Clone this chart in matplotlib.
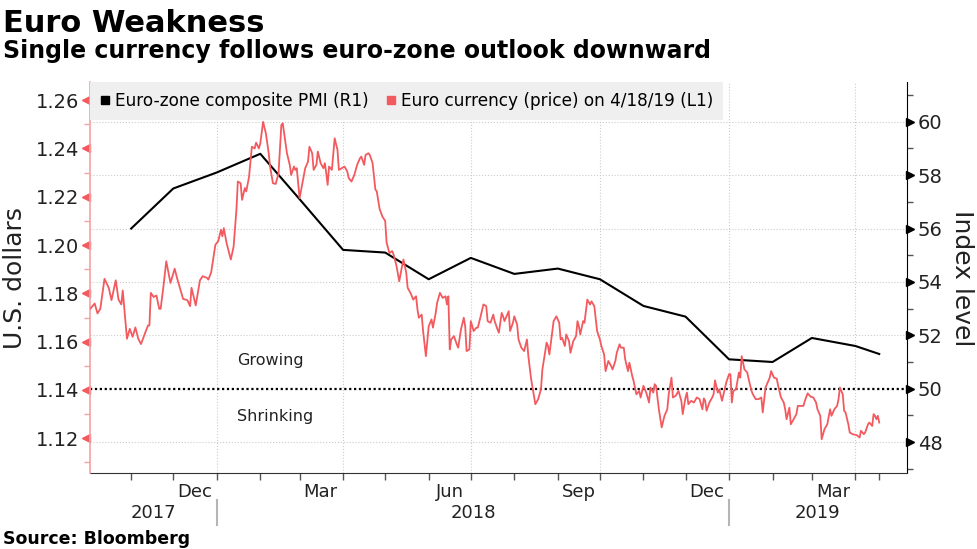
import matplotlib
matplotlib.use("Agg")
import matplotlib.pyplot as plt
import matplotlib.transforms as mtransforms
from matplotlib.lines import Line2D
import pandas as pd

# Euro-zone composite PMI (monthly, plotted at release)
pmi_dates = ["2017-11-01", "2017-12-01", "2018-01-01", "2018-02-01", "2018-03-01",
             "2018-04-01", "2018-05-01", "2018-06-01", "2018-07-01", "2018-08-01",
             "2018-09-01", "2018-10-01", "2018-11-01", "2018-12-01", "2019-01-01",
             "2019-02-01", "2019-03-01", "2019-04-01", "2019-04-18"]
pmi_values = [56.0, 57.5, 58.1, 58.8, 57.1, 55.2, 55.1, 54.1, 54.9, 54.3,
              54.5, 54.1, 53.1, 52.7, 51.1, 51.0, 51.9, 51.6, 51.3]

# EUR/USD price
eur_dates = [
    "2017-10-03", "2017-10-06", "2017-10-08", "2017-10-10", "2017-10-13", "2017-10-16", "2017-10-18",
    "2017-10-21", "2017-10-23", "2017-10-25", "2017-10-26", "2017-10-29", "2017-10-31", "2017-11-02",
    "2017-11-04", "2017-11-06", "2017-11-08", "2017-11-11", "2017-11-13", "2017-11-14", "2017-11-15",
    "2017-11-17", "2017-11-19", "2017-11-21", "2017-11-22", "2017-11-24", "2017-11-26", "2017-11-29",
    "2017-12-02", "2017-12-04", "2017-12-08", "2017-12-11", "2017-12-13", "2017-12-14", "2017-12-17",
    "2017-12-20", "2017-12-22", "2017-12-25", "2017-12-26", "2017-12-28", "2017-12-31", "2018-01-02",
    "2018-01-04", "2018-01-05", "2018-01-06", "2018-01-08", "2018-01-11", "2018-01-13", "2018-01-15",
    "2018-01-16", "2018-01-18", "2018-01-19", "2018-01-21", "2018-01-22", "2018-01-24", "2018-01-26",
    "2018-01-28", "2018-01-29", "2018-01-31", "2018-02-01", "2018-02-03", "2018-02-05", "2018-02-07",
    "2018-02-08", "2018-02-10", "2018-02-12", "2018-02-14", "2018-02-16", "2018-02-17", "2018-02-19",
    "2018-02-20", "2018-02-22", "2018-02-23", "2018-02-25", "2018-02-26", "2018-02-27", "2018-03-01",
    "2018-03-03", "2018-03-05", "2018-03-07", "2018-03-08", "2018-03-10", "2018-03-11", "2018-03-13",
    "2018-03-14", "2018-03-16", "2018-03-18", "2018-03-19", "2018-03-20", "2018-03-21", "2018-03-22",
    "2018-03-24", "2018-03-26", "2018-03-28", "2018-03-29", "2018-03-31", "2018-04-02", "2018-04-04",
    "2018-04-05", "2018-04-07", "2018-04-09", "2018-04-11", "2018-04-13", "2018-04-14", "2018-04-16",
    "2018-04-17", "2018-04-19", "2018-04-20", "2018-04-22", "2018-04-24", "2018-04-25", "2018-04-27",
    "2018-04-29", "2018-05-01", "2018-05-02", "2018-05-04", "2018-05-06", "2018-05-07", "2018-05-09",
    "2018-05-11", "2018-05-13", "2018-05-14", "2018-05-16", "2018-05-17", "2018-05-19", "2018-05-21",
    "2018-05-23", "2018-05-24", "2018-05-25", "2018-05-27", "2018-05-28", "2018-05-30", "2018-06-01",
    "2018-06-03", "2018-06-04", "2018-06-06", "2018-06-07", "2018-06-09", "2018-06-11", "2018-06-13",
    "2018-06-14", "2018-06-15", "2018-06-16", "2018-06-17", "2018-06-19", "2018-06-21", "2018-06-22",
    "2018-06-24", "2018-06-26", "2018-06-27", "2018-06-28", "2018-06-30", "2018-07-01", "2018-07-03",
    "2018-07-05", "2018-07-06", "2018-07-08", "2018-07-10", "2018-07-12", "2018-07-13", "2018-07-15",
    "2018-07-17", "2018-07-18", "2018-07-20", "2018-07-21", "2018-07-23", "2018-07-24", "2018-07-25",
    "2018-07-27", "2018-07-28", "2018-07-29", "2018-07-31", "2018-08-01", "2018-08-03", "2018-08-04",
    "2018-08-06", "2018-08-08", "2018-08-10", "2018-08-11", "2018-08-13", "2018-08-15", "2018-08-16",
    "2018-08-18", "2018-08-20", "2018-08-21", "2018-08-24", "2018-08-25", "2018-08-26", "2018-08-28",
    "2018-08-29", "2018-08-31", "2018-09-02", "2018-09-03", "2018-09-04", "2018-09-06", "2018-09-07",
    "2018-09-09", "2018-09-10", "2018-09-12", "2018-09-14", "2018-09-15", "2018-09-16", "2018-09-17",
    "2018-09-19", "2018-09-20", "2018-09-22", "2018-09-24", "2018-09-25", "2018-09-27", "2018-09-29",
    "2018-10-01", "2018-10-02", "2018-10-04", "2018-10-05", "2018-10-07", "2018-10-09", "2018-10-10",
    "2018-10-12", "2018-10-13", "2018-10-15", "2018-10-16", "2018-10-18", "2018-10-19", "2018-10-21",
    "2018-10-22", "2018-10-24", "2018-10-25", "2018-10-27", "2018-10-29", "2018-10-30", "2018-11-01",
    "2018-11-03", "2018-11-05", "2018-11-06", "2018-11-08", "2018-11-09", "2018-11-10", "2018-11-12",
    "2018-11-14", "2018-11-16", "2018-11-18", "2018-11-19", "2018-11-21", "2018-11-22", "2018-11-24",
    "2018-11-26", "2018-11-28", "2018-11-29", "2018-12-01", "2018-12-02", "2018-12-03", "2018-12-05",
    "2018-12-07", "2018-12-09", "2018-12-11", "2018-12-13", "2018-12-14", "2018-12-15", "2018-12-16",
    "2018-12-18", "2018-12-20", "2018-12-21", "2018-12-22", "2018-12-24", "2018-12-25", "2018-12-27",
    "2018-12-30", "2019-01-01", "2019-01-02", "2019-01-03", "2019-01-04", "2019-01-06", "2019-01-08",
    "2019-01-09", "2019-01-10", "2019-01-12", "2019-01-14", "2019-01-15", "2019-01-17", "2019-01-18",
    "2019-01-20", "2019-01-22", "2019-01-24", "2019-01-25", "2019-01-27", "2019-01-29", "2019-01-30",
    "2019-01-31", "2019-02-02", "2019-02-04", "2019-02-05", "2019-02-07", "2019-02-09", "2019-02-10",
    "2019-02-11", "2019-02-13", "2019-02-14", "2019-02-16", "2019-02-18", "2019-02-19", "2019-02-21",
    "2019-02-23", "2019-02-24", "2019-02-26", "2019-02-28", "2019-03-02", "2019-03-04", "2019-03-05",
    "2019-03-07", "2019-03-08", "2019-03-10", "2019-03-12", "2019-03-14", "2019-03-15", "2019-03-17",
    "2019-03-19", "2019-03-20", "2019-03-21", "2019-03-23", "2019-03-24", "2019-03-25", "2019-03-27",
    "2019-03-28", "2019-03-30", "2019-04-02", "2019-04-04", "2019-04-05", "2019-04-07", "2019-04-08",
    "2019-04-10", "2019-04-11", "2019-04-13", "2019-04-14", "2019-04-15", "2019-04-16", "2019-04-17",
    "2019-04-18",
]
eur_price = [
    1.1737, 1.1758, 1.1717, 1.1736, 1.1860, 1.1823, 1.1772,
    1.1854, 1.1774, 1.1754, 1.1812, 1.1612, 1.1653, 1.1620,
    1.1659, 1.1613, 1.1590, 1.1637, 1.1667, 1.1667, 1.1802,
    1.1785, 1.1791, 1.1736, 1.1736, 1.1829, 1.1933, 1.1843,
    1.1902, 1.1857, 1.1777, 1.1772, 1.1747, 1.1823, 1.1750,
    1.1854, 1.1871, 1.1864, 1.1857, 1.1887, 1.2001, 1.2016,
    1.2063, 1.2036, 1.2070, 1.2008, 1.1940, 1.1994, 1.2146,
    1.2263, 1.2256, 1.2187, 1.2236, 1.2222, 1.2283, 1.2407,
    1.2400, 1.2424, 1.2400, 1.2421, 1.2510, 1.2462, 1.2380,
    1.2325, 1.2256, 1.2253, 1.2297, 1.2497, 1.2504, 1.2421,
    1.2380, 1.2332, 1.2290, 1.2325, 1.2311, 1.2318, 1.2194,
    1.2256, 1.2318, 1.2345, 1.2407, 1.2380, 1.2311, 1.2332,
    1.2387, 1.2339, 1.2318, 1.2339, 1.2297, 1.2249, 1.2325,
    1.2311, 1.2442, 1.2394, 1.2311, 1.2318, 1.2325, 1.2304,
    1.2277, 1.2263, 1.2290, 1.2332, 1.2359, 1.2366, 1.2332,
    1.2373, 1.2380, 1.2373, 1.2340, 1.2230, 1.2222, 1.2150,
    1.2118, 1.2100, 1.2010, 1.1967, 1.1975, 1.1960, 1.1915,
    1.1850, 1.1912, 1.1940, 1.1885, 1.1823, 1.1802, 1.1774,
    1.1788, 1.1733, 1.1699, 1.1712, 1.1644, 1.1540, 1.1664,
    1.1692, 1.1658, 1.1719, 1.1761, 1.1802, 1.1781, 1.1788,
    1.1754, 1.1788, 1.1568, 1.1609, 1.1623, 1.1589, 1.1575,
    1.1651, 1.1699, 1.1664, 1.1561, 1.1568, 1.1685, 1.1644,
    1.1658, 1.1658, 1.1705, 1.1754, 1.1747, 1.1685, 1.1678,
    1.1712, 1.1685, 1.1651, 1.1637, 1.1719, 1.1705, 1.1685,
    1.1712, 1.1726, 1.1644, 1.1678, 1.1705, 1.1671, 1.1609,
    1.1575, 1.1561, 1.1609, 1.1540, 1.1444, 1.1375, 1.1341,
    1.1362, 1.1403, 1.1485, 1.1596, 1.1582, 1.1547, 1.1637,
    1.1685, 1.1705, 1.1678, 1.1609, 1.1616, 1.1582, 1.1630,
    1.1602, 1.1554, 1.1602, 1.1623, 1.1685, 1.1664, 1.1630,
    1.1685, 1.1678, 1.1774, 1.1754, 1.1767, 1.1747, 1.1644,
    1.1609, 1.1582, 1.1547, 1.1478, 1.1520, 1.1499, 1.1485,
    1.1520, 1.1554, 1.1589, 1.1575, 1.1575, 1.1527, 1.1478,
    1.1513, 1.1458, 1.1437, 1.1382, 1.1396, 1.1369, 1.1417,
    1.1389, 1.1348, 1.1410, 1.1389, 1.1424, 1.1417, 1.1320,
    1.1245, 1.1293, 1.1320, 1.1382, 1.1451, 1.1369, 1.1376,
    1.1396, 1.1355, 1.1300, 1.1369, 1.1389, 1.1341, 1.1355,
    1.1348, 1.1369, 1.1362, 1.1320, 1.1365, 1.1355, 1.1314,
    1.1348, 1.1369, 1.1382, 1.1440, 1.1389, 1.1403, 1.1355,
    1.1431, 1.1465, 1.1465, 1.1348, 1.1396, 1.1403, 1.1472,
    1.1451, 1.1540, 1.1485, 1.1472, 1.1444, 1.1396, 1.1382,
    1.1362, 1.1362, 1.1369, 1.1307, 1.1410, 1.1437, 1.1451,
    1.1478, 1.1451, 1.1447, 1.1417, 1.1369, 1.1348, 1.1320,
    1.1279, 1.1327, 1.1258, 1.1279, 1.1300, 1.1334, 1.1334,
    1.1334, 1.1355, 1.1386, 1.1373, 1.1369, 1.1348, 1.1320,
    1.1293, 1.1196, 1.1238, 1.1258, 1.1320, 1.1293, 1.1320,
    1.1334, 1.1362, 1.1410, 1.1382, 1.1314, 1.1307, 1.1258,
    1.1224, 1.1217, 1.1213, 1.1203, 1.1231, 1.1217, 1.1224,
    1.1258, 1.1265, 1.1251, 1.1300, 1.1293, 1.1279, 1.1293,
    1.1265,
]

left_ticks = [1.12, 1.14, 1.16, 1.18, 1.20, 1.22, 1.24, 1.26]
left_minor = [1.11, 1.13, 1.15, 1.17, 1.19, 1.21, 1.23, 1.25]
right_ticks = [48, 50, 52, 54, 56, 58, 60]
right_minor = [47, 49, 51, 53, 55, 57, 59, 61]
month_labels = ["Dec", "Mar", "Jun", "Sep", "Dec", "Mar"]
month_label_dates = ["2017-12-16", "2018-03-16", "2018-06-16",
                     "2018-09-16", "2018-12-16", "2019-03-16"]
years = [2017, 2018, 2019]

RED = "#f25a5f"
PINK = "#f4a3a3"

pmi_x = pd.to_datetime(pmi_dates)
eur_x = pd.to_datetime(eur_dates)
x0 = pd.Timestamp("2017-10-02 16:00")
x1 = pd.Timestamp("2019-05-07 14:00")

fig = plt.figure(figsize=(9.77, 5.49), dpi=100)
L, R, B, T = 90 / 977, 906.7 / 977, 1 - 473.3 / 549, 1 - 82 / 549
ax = fig.add_axes([L, B, R - L, T - B])   # PMI, right axis
axl = ax.twinx()                          # euro, left axis
ax.yaxis.tick_right()
ax.yaxis.set_label_position("right")
axl.yaxis.tick_left()
axl.yaxis.set_label_position("left")

ax.set_xlim(x0, x1)
ax.set_ylim(46.83, 61.49)
axl.set_ylim(1.1055, 1.2675)

# grid: horizontal follows the right axis, vertical at quarter starts
for v in right_ticks:
    if v != 50:
        ax.axhline(v, color="#cccccc", ls=":", lw=0.8, zorder=0)
for d in ["2018-01-01", "2018-04-01", "2018-07-01", "2018-10-01", "2019-01-01", "2019-04-01"]:
    ax.axvline(pd.Timestamp(d), color="#cccccc", ls=":", lw=0.8, zorder=0)
ax.axhline(50, color="black", ls=(0, (1, 1.2)), lw=1.6, zorder=1)

ax.plot(pmi_x, pmi_values, color="black", lw=1.5, zorder=3)
axl.plot(eur_x, eur_price, color=RED, lw=1.3, zorder=3)

# spines
for s in ["top", "left"]:
    ax.spines[s].set_visible(False)
ax.spines["right"].set_color("black")
ax.spines["bottom"].set_color("#333333")
for s in ["top", "right", "bottom"]:
    axl.spines[s].set_visible(False)
axl.spines["left"].set_color(PINK)
axl.spines["left"].set_linewidth(1.2)

# y ticks with triangle markers
ax.set_yticks(right_ticks)
ax.set_yticklabels([str(v) for v in right_ticks])
ax.set_yticks(right_minor, minor=True)
ax.tick_params(axis="y", which="major", length=0, pad=8, labelsize=14, colors="#222222")
ax.tick_params(axis="y", which="minor", length=4, width=1, color="#555555")
axl.set_yticks(left_ticks)
axl.set_yticklabels([f"{v:.2f}" for v in left_ticks])
axl.set_yticks(left_minor, minor=True)
axl.tick_params(axis="y", which="major", length=0, pad=8, labelsize=14, labelcolor="#222222")
axl.tick_params(axis="y", which="minor", length=4, width=1, color=PINK)

trR = mtransforms.blended_transform_factory(ax.transAxes, ax.transData)
ax.plot([1.0045] * len(right_ticks), right_ticks, ls="none", marker=">", ms=5.5,
        color="black", transform=trR, clip_on=False)
trL = mtransforms.blended_transform_factory(axl.transAxes, axl.transData)
axl.plot([-0.0045] * len(left_ticks), left_ticks, ls="none", marker="<", ms=5.5,
         color=RED, transform=trL, clip_on=False)

# x ticks: month boundaries, month names mid-month
month_starts = list(pd.date_range("2017-11-01", "2019-04-01", freq="MS")) + [eur_x[-1]]
ax.set_xticks(month_starts)
ax.set_xticklabels([""] * len(month_starts))
ax.set_xticks(pd.to_datetime(month_label_dates), minor=True)
ax.set_xticklabels(month_labels, minor=True)
ax.tick_params(axis="x", which="major", length=5, width=1, color="#555555", direction="out")
ax.tick_params(axis="x", which="minor", length=0, pad=7, labelsize=13, labelcolor="#222222")

# years and separators
trX = mtransforms.blended_transform_factory(ax.transData, ax.transAxes)
for yr in years:
    a = max(pd.Timestamp(f"{yr}-01-01"), x0)
    b = min(pd.Timestamp(f"{yr + 1}-01-01"), x1)
    ax.text(a + (b - a) / 2, -0.102, str(yr), transform=trX, ha="center", va="center",
            fontsize=13, color="#222222")
    if yr > years[0]:
        ax.add_line(Line2D([pd.Timestamp(f"{yr}-01-01")] * 2, [-0.068, -0.132], transform=trX,
                           color="#b5b5b5", lw=1.5, clip_on=False))

ax.text(0.18, 51.06, "Growing", transform=trR, fontsize=11.5, va="center", color="#222222")
ax.text(0.18, 48.96, "Shrinking", transform=trR, fontsize=11.5, va="center", color="#222222")

handles = [Line2D([], [], ls="none", marker="s", ms=6, color="black"),
           Line2D([], [], ls="none", marker="s", ms=6, color=RED)]
leg = axl.legend(handles, ["Euro-zone composite PMI (R1)", "Euro currency (price) on 4/18/19 (L1)"],
                 loc="upper left", bbox_to_anchor=(0, 1), borderaxespad=0, ncol=2, fontsize=12.2,
                 frameon=True, fancybox=False, facecolor="#efefef", edgecolor="none", framealpha=1,
                 handlelength=0.6, handletextpad=0.3, columnspacing=1.0, borderpad=0.58)
leg.set_zorder(10)

fig.text(15 / 977, 1 - 278 / 549, "U.S. dollars", rotation=90, ha="center", va="center",
         fontsize=18, color="#222222")
fig.text(962 / 977, 1 - 278 / 549, "Index level", rotation=270, ha="center", va="center",
         fontsize=18, color="#222222")
fig.text(3 / 977, 1 - 32.5 / 549, "Euro Weakness", fontsize=22, fontweight="bold", va="baseline")
fig.text(3 / 977, 1 - 58 / 549, "Single currency follows euro-zone outlook downward",
         fontsize=17, fontweight="bold", va="baseline")
fig.text(3 / 977, 1 - 544 / 549, "Source: Bloomberg", fontsize=12.5, fontweight="bold", va="baseline")

fig.savefig("out.png", dpi=100)
